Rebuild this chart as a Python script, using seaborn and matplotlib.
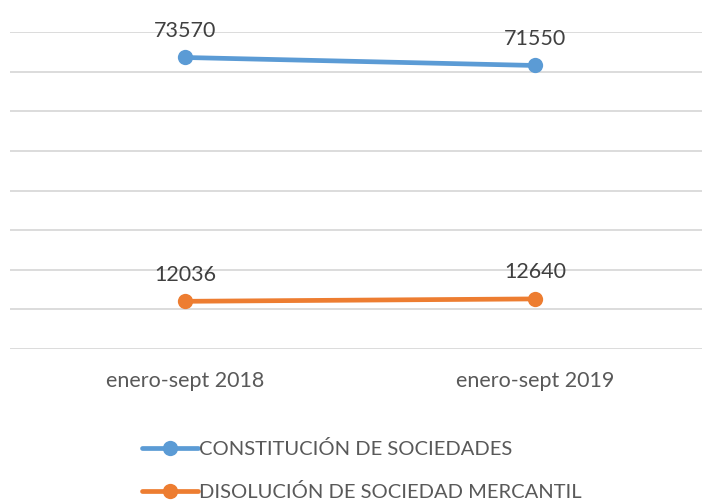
import pandas as pd
import seaborn as sns
import matplotlib.pyplot as plt
from matplotlib.lines import Line2D

periods = ["enero-sept 2018", "enero-sept 2019"]
series_names = ["CONSTITUCIÓN DE SOCIEDADES", "DISOLUCIÓN DE SOCIEDAD MERCANTIL"]
constitucion = [73570, 71550]
disolucion = [12036, 12640]
colors = ["#5B9BD5", "#ED7D31"]

df = pd.DataFrame({
    "period": periods * 2,
    "x": [0, 1] * 2,
    "value": constitucion + disolucion,
    "serie": [series_names[0]] * 2 + [series_names[1]] * 2,
})

sns.set_style("white")
plt.rcParams["font.family"] = ["Lato", "DejaVu Sans"]

fig = plt.figure(figsize=(7.02, 5.04), dpi=100)
ax = fig.add_axes([10 / 702, (504 - 349) / 504, 700 / 702, (349 - 32) / 504])

sns.lineplot(
    data=df, x="x", y="value", hue="serie", palette=colors,
    marker="o", markersize=11, markeredgewidth=0, linewidth=3.4,
    legend=False, ax=ax,
)

# data labels above each point
for vals in (constitucion, disolucion):
    for i, v in enumerate(vals):
        ax.annotate(str(v), (i, v), xytext=(0, 12), textcoords="offset points",
                    ha="center", va="bottom", fontsize=15.5, color="#404040")

ax.set_xlim(-0.5, 1.5)
ax.set_ylim(0, 80000)
ax.set_yticks(range(0, 80001, 10000))
ax.yaxis.grid(True, color="#d9d9d9", linewidth=1.3)
ax.set_yticklabels([])
ax.tick_params(left=False, bottom=False)
ax.set_xticks([0, 1])
ax.set_xticklabels(periods, fontsize=15.5, color="#595959")
ax.tick_params(axis="x", pad=12)
ax.set_xlabel("")
ax.set_ylabel("")
for s in ax.spines.values():
    s.set_visible(False)

handles = [Line2D([], [], color=c, marker="o", markersize=11, markeredgewidth=0,
                  linewidth=3.4) for c in colors]
fig.legend(handles, series_names, loc="center", bbox_to_anchor=(0.515, 0.066),
           ncol=1, frameon=False, fontsize=14.5, handlelength=2.8,
           handletextpad=0.05, labelspacing=1.25, labelcolor="#595959")

fig.savefig("out.png", dpi=100)
